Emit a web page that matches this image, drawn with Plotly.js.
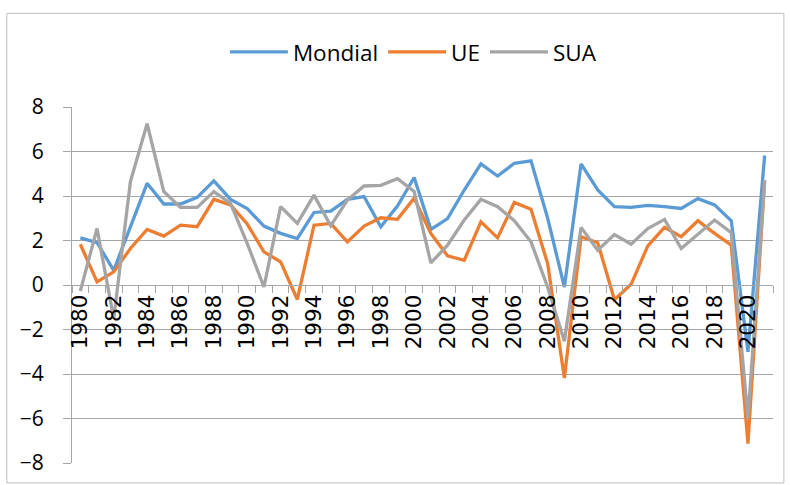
<!DOCTYPE html>
<html>
<head>
<meta charset="utf-8">
<script src="https://cdn.plot.ly/plotly-3.0.1.min.js"></script>
<style>html,body{margin:0;padding:0;background:#fff;}#chart{width:790px;height:485px;}</style>
</head>
<body>
<div id="chart"></div>
<script>
const years = [1980,1981,1982,1983,1984,1985,1986,1987,1988,1989,1990,1991,1992,1993,1994,1995,1996,1997,1998,1999,2000,2001,2002,2003,2004,2005,2006,2007,2008,2009,2010,2011,2012,2013,2014,2015,2016,2017,2018,2019,2020,2021];
const mondial = [2.12,1.9,0.66,2.65,4.57,3.64,3.64,3.94,4.68,3.85,3.43,2.65,2.32,2.09,3.26,3.32,3.85,3.97,2.62,3.55,4.83,2.5,2.98,4.27,5.44,4.9,5.47,5.58,3.0,-0.09,5.44,4.27,3.52,3.49,3.58,3.52,3.44,3.88,3.6,2.89,-3.0,5.82];
const ue = [1.83,0.14,0.59,1.64,2.5,2.2,2.69,2.62,3.85,3.6,2.74,1.49,1.04,-0.65,2.69,2.77,1.94,2.65,3.02,2.95,3.9,2.32,1.31,1.11,2.84,2.12,3.71,3.4,0.96,-4.18,2.17,1.9,-0.66,0.03,1.76,2.59,2.17,2.89,2.32,1.79,-7.13,4.7];
const sua = [-0.27,2.54,-1.52,4.65,7.25,4.2,3.49,3.49,4.2,3.67,1.86,-0.09,3.52,2.77,4.04,2.66,3.82,4.45,4.48,4.78,4.2,0.99,1.79,2.92,3.85,3.52,2.89,1.94,-0.1,-2.53,2.59,1.56,2.27,1.83,2.54,2.95,1.64,2.28,2.92,2.35,-6.0,4.7];
const seriesNames = ['Mondial','UE','SUA'];
const colors = ['#5B9BD5','#ED7D31','#A5A5A5'];

const data = [mondial, ue, sua].map((vals, i) => ({
  type: 'scatter', mode: 'lines', name: seriesNames[i], x: years, y: vals,
  line: {color: colors[i], width: 3.3}
}));

const gridCol = '#A6A6A6';
const layout = {
  width: 790, height: 485,
  margin: {l: 72, r: 17, t: 107, b: 22},
  paper_bgcolor: '#fff', plot_bgcolor: '#fff',
  font: {family: 'Open Sans, sans-serif', color: '#000'},
  showlegend: true,
  legend: {orientation: 'h', x: 0.487, xanchor: 'center', y: 1.154, yanchor: 'middle',
           font: {family: 'Open Sans', size: 22.5, color: '#000'}, itemwidth: 58, traceorder: 'normal'},
  xaxis: {
    type: 'linear', range: [1979.5, 2021.5], anchor: 'free', position: 0.5,
    tick0: 1980, dtick: 2, ticks: '', showgrid: false, zeroline: false,
    showline: true, linecolor: gridCol, linewidth: 1,
    tickangle: -90, tickfont: {family: 'DejaVu Sans', size: 21.5, color: '#000'},
    minor: {ticks: 'outside', tick0: 1979.5, dtick: 1, ticklen: 7, tickcolor: gridCol, showgrid: false}
  },
  yaxis: {
    range: [-8, 8], tick0: -8, dtick: 2, showgrid: true, gridcolor: gridCol, gridwidth: 1,
    zeroline: false, showline: true, linecolor: gridCol, linewidth: 1,
    ticks: 'outside', ticklen: 8, tickcolor: gridCol, ticklabelstandoff: 15,
    tickfont: {family: 'Open Sans', size: 21, color: '#000'}
  },
  shapes: [{type: 'rect', xref: 'paper', yref: 'paper', x0: -0.093, x1: 1.0155, y0: -0.056, y1: 1.263,
            line: {color: '#BFBFBF', width: 1}, fillcolor: 'rgba(0,0,0,0)', layer: 'below'}]
};

Plotly.newPlot('chart', data, layout, {displayModeBar: false, staticPlot: true});
</script>
</body>
</html>
